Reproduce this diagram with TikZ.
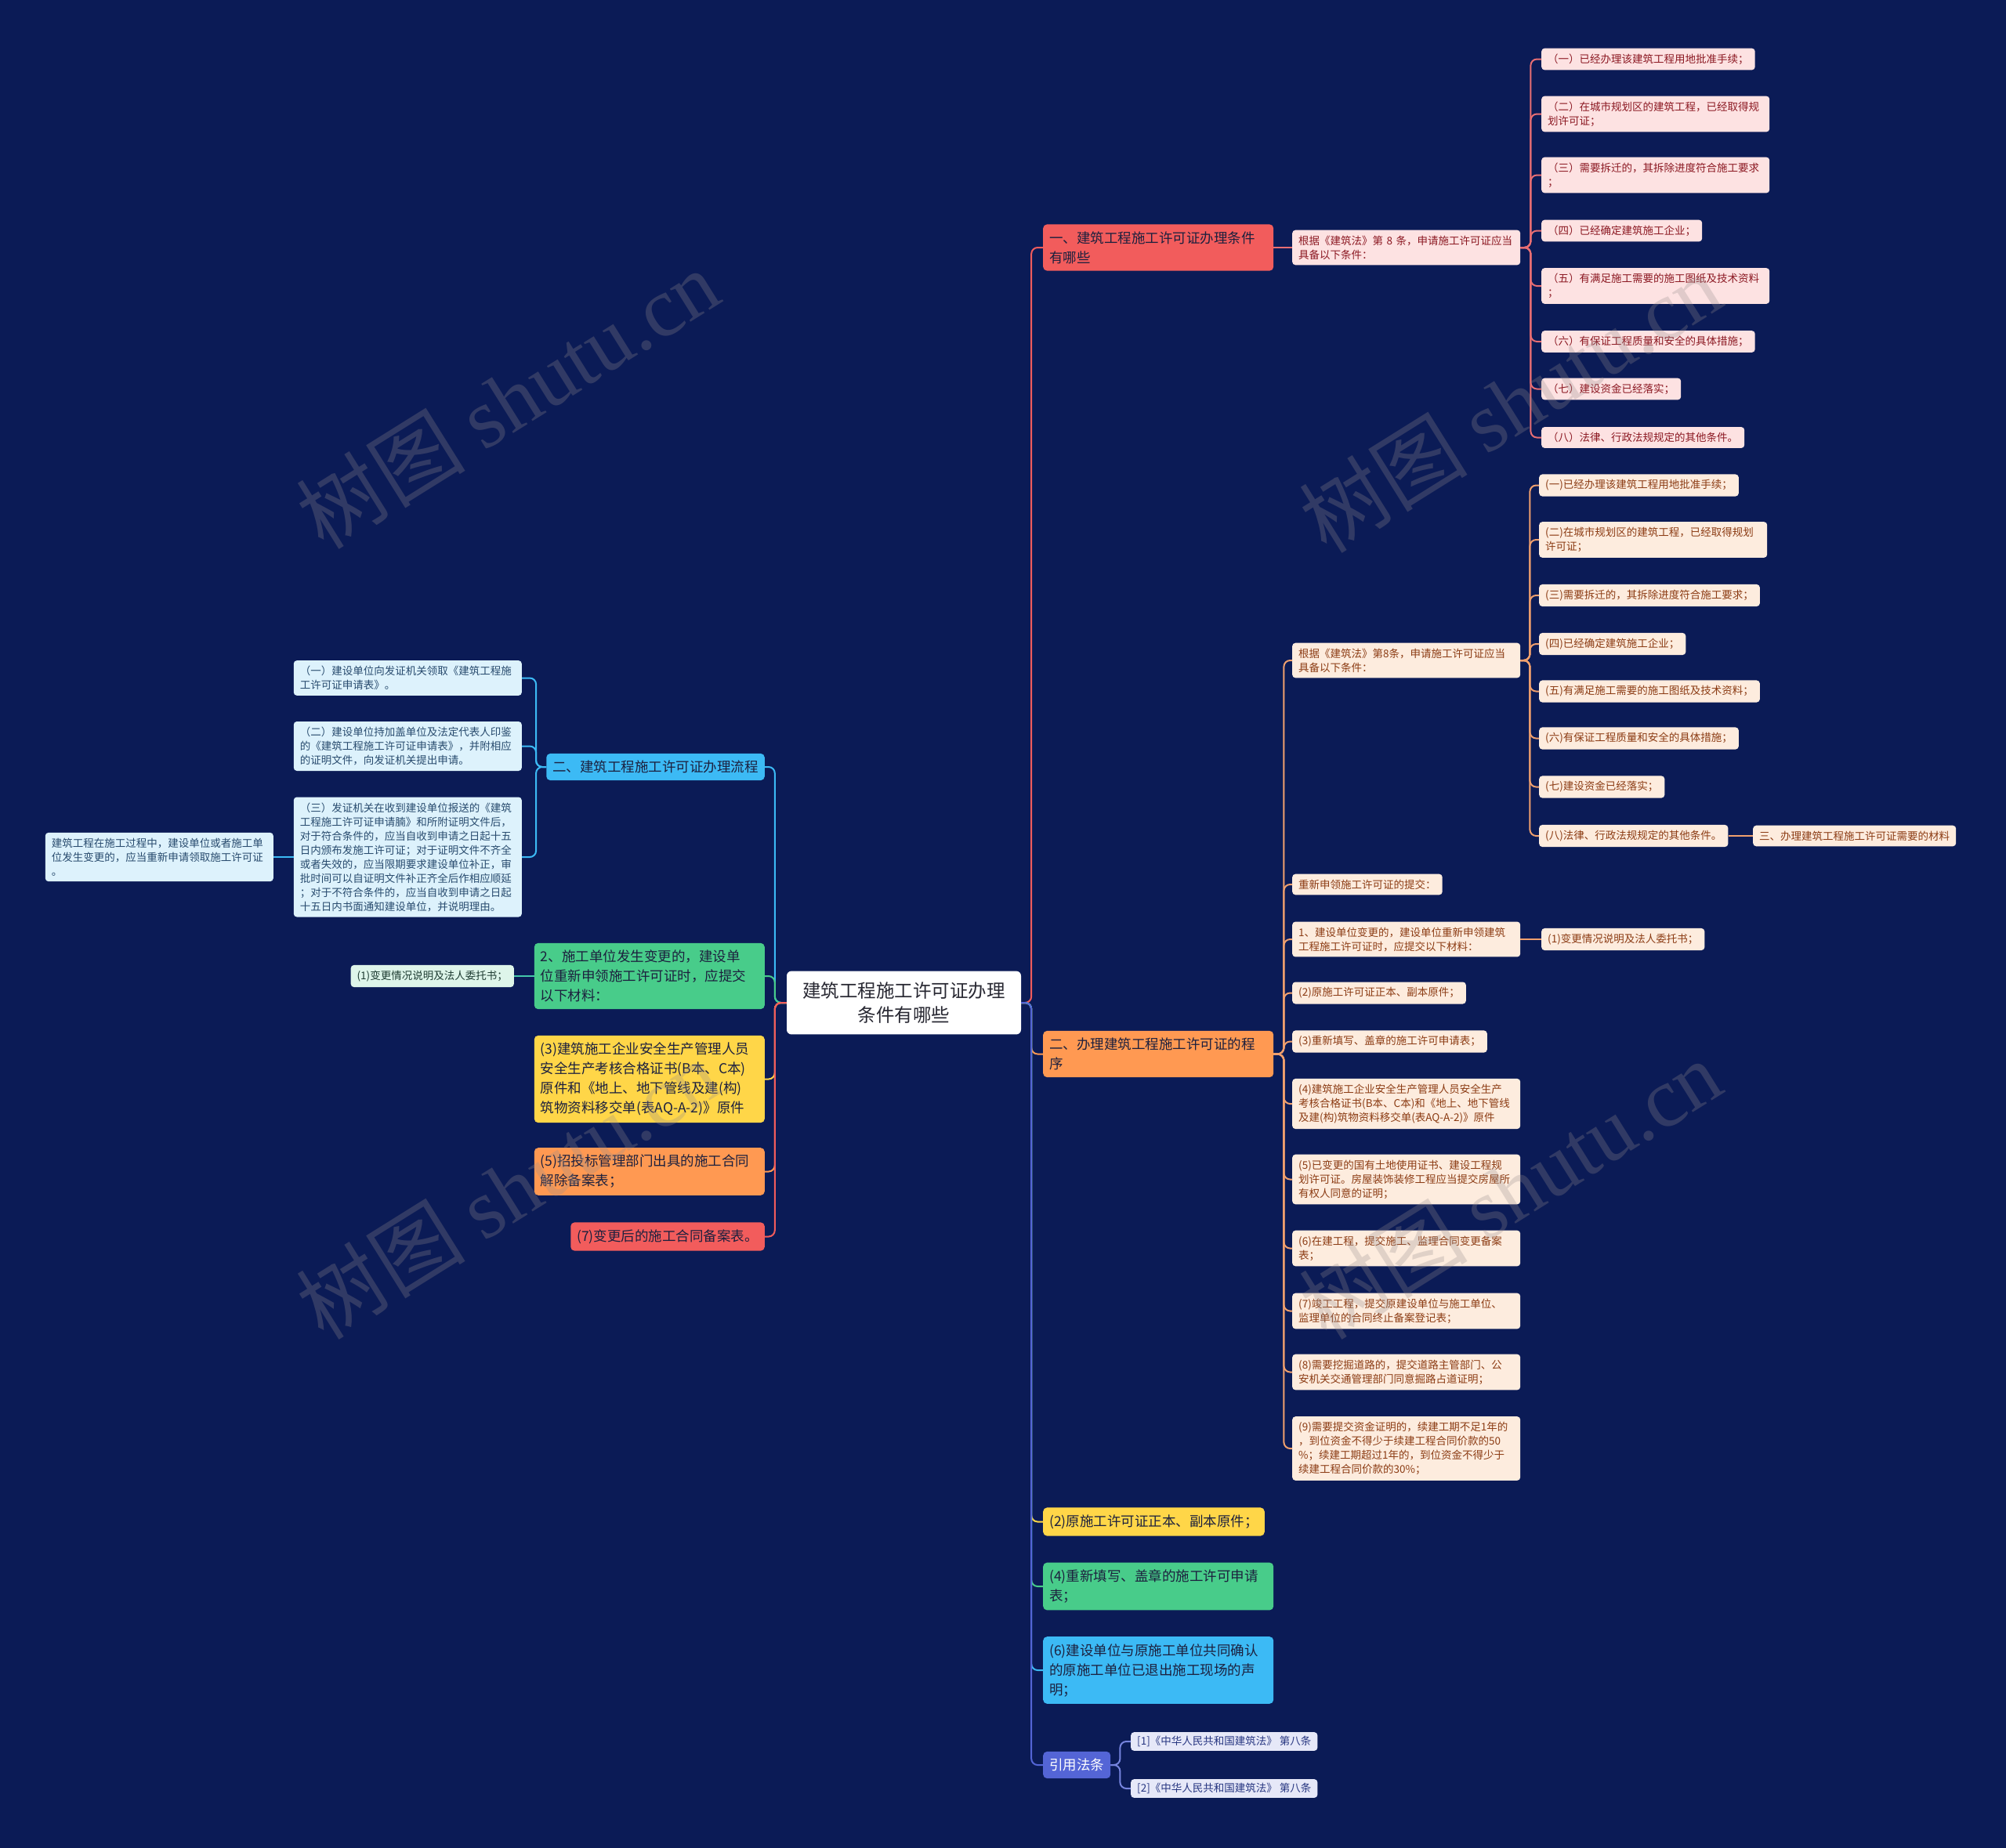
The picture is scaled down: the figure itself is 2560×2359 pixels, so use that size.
\documentclass[tikz,border=0pt]{standalone}
\usepackage{fontspec}
\setmainfont{Noto Sans CJK SC}
\newfontfamily\wmfont{Liberation Serif}
\usetikzlibrary{positioning}

\definecolor{bg}{RGB}{11,27,86}
\definecolor{rootT}{RGB}{40,40,50}
\definecolor{brT}{RGB}{28,32,62}
\definecolor{redB}{RGB}{242,92,92}
\definecolor{orangeB}{RGB}{255,153,82}
\definecolor{yellowB}{RGB}{255,214,72}
\definecolor{greenB}{RGB}{72,204,138}
\definecolor{blueB}{RGB}{60,186,245}
\definecolor{purpB}{RGB}{84,101,214}
\definecolor{pinkF}{RGB}{253,226,226}
\definecolor{pinkT}{RGB}{140,25,35}
\definecolor{pinkL}{RGB}{232,110,115}
\definecolor{peachF}{RGB}{253,236,222}
\definecolor{peachT}{RGB}{140,60,20}
\definecolor{peachL}{RGB}{240,160,110}
\definecolor{skyF}{RGB}{221,242,252}
\definecolor{skyT}{RGB}{40,75,110}
\definecolor{mintF}{RGB}{222,245,234}
\definecolor{mintT}{RGB}{30,60,50}
\definecolor{lavF}{RGB}{230,232,248}
\definecolor{lavT}{RGB}{40,55,130}
\definecolor{wmark}{RGB}{150,140,140}

\begin{document}
\begin{tikzpicture}[x=1pt, y=-1pt,
    leaf/.style={rounded corners=4pt, inner xsep=8pt, inner ysep=7pt, align=left,
                 font=\fontsize{13.5}{18}\selectfont},
    wide/.style={text width=275pt},
    pinkleaf/.style={leaf, fill=pinkF, text=pinkT},
    peachleaf/.style={leaf, fill=peachF, text=peachT},
    skyleaf/.style={leaf, fill=skyF, text=skyT},
    mintleaf/.style={leaf, fill=mintF, text=mintT},
    refleaf/.style={leaf, fill=lavF, text=lavT, inner ysep=5pt},
    branch/.style={rounded corners=5pt, fill=#1, text=brT, inner xsep=8pt, inner ysep=9pt,
                   align=left, font=\fontsize{17.5}{25}\selectfont},
    bwide/.style={text width=278pt},
    link/.style={draw=#1, line width=2pt, rounded corners=8pt}]

    \fill[bg] (0,0) rectangle (2560,2359);
    \useasboundingbox (0,0) rectangle (2560,2359);

    % centre
    \node[rounded corners=6pt, fill=white, text=rootT, text width=275pt, align=center,
          inner xsep=12pt, inner ysep=14pt, font=\fontsize{23.5}{31}\selectfont]
          (root) at (1153.5,1280) {建筑工程施工许可证办理\\条件有哪些};

    % right side
    \node[branch=redB, bwide, anchor=west] (bA) at (1331,316) {一、建筑工程施工许可证办理条件\\有哪些};
    \node[pinkleaf, wide, anchor=west] (bAa) at (1649,316) {根据《建筑法》第 8 条，申请施工许可证应当\\具备以下条件：};
    \node[pinkleaf, anchor=west] (a1) at (1967,75.5) {（一）已经办理该建筑工程用地批准手续；};
    \node[pinkleaf, wide, anchor=west] (a2) at (1967,145.5) {（二）在城市规划区的建筑工程，已经取得规\\划许可证；};
    \node[pinkleaf, wide, anchor=west] (a3) at (1967,223.5) {（三）需要拆迁的，其拆除进度符合施工要求\\；};
    \node[pinkleaf, anchor=west] (a4) at (1967,294.5) {（四）已经确定建筑施工企业；};
    \node[pinkleaf, wide, anchor=west] (a5) at (1967,365) {（五）有满足施工需要的施工图纸及技术资料\\；};
    \node[pinkleaf, anchor=west] (a6) at (1967,436) {（六）有保证工程质量和安全的具体措施；};
    \node[pinkleaf, anchor=west] (a7) at (1967,496.5) {（七）建设资金已经落实；};
    \node[pinkleaf, anchor=west] (a8) at (1967,558.5) {（八）法律、行政法规规定的其他条件。};

    \node[branch=orangeB, bwide, anchor=west] (bB) at (1331,1345.5) {二、办理建筑工程施工许可证的程\\序};
    \node[peachleaf, wide, anchor=west] (c1) at (1649,843) {根据《建筑法》第8条，申请施工许可证应当\\具备以下条件：};
    \node[peachleaf, anchor=west] (d1) at (1964,619.5) {(一)已经办理该建筑工程用地批准手续；};
    \node[peachleaf, wide, anchor=west] (d2) at (1964,689) {(二)在城市规划区的建筑工程，已经取得规划\\许可证；};
    \node[peachleaf, anchor=west] (d3) at (1964,760) {(三)需要拆迁的，其拆除进度符合施工要求；};
    \node[peachleaf, anchor=west] (d4) at (1964,822) {(四)已经确定建筑施工企业；};
    \node[peachleaf, anchor=west] (d5) at (1964,882.5) {(五)有满足施工需要的施工图纸及技术资料；};
    \node[peachleaf, anchor=west] (d6) at (1964,942.5) {(六)有保证工程质量和安全的具体措施；};
    \node[peachleaf, anchor=west] (d7) at (1964,1004.5) {(七)建设资金已经落实；};
    \node[peachleaf, anchor=west] (d8) at (1964,1067) {(八)法律、行政法规规定的其他条件。};
    \node[peachleaf, anchor=west] (d8a) at (2237,1067) {三、办理建筑工程施工许可证需要的材料};
    \node[peachleaf, anchor=west] (c2) at (1649,1129) {重新申领施工许可证的提交：};
    \node[peachleaf, wide, anchor=west] (c3) at (1649,1199) {1、建设单位变更的，建设单位重新申领建筑\\工程施工许可证时，应提交以下材料：};
    \node[peachleaf, anchor=west] (c3a) at (1967,1199) {(1)变更情况说明及法人委托书；};
    \node[peachleaf, anchor=west] (c4) at (1649,1267.5) {(2)原施工许可证正本、副本原件；};
    \node[peachleaf, anchor=west] (c5) at (1649,1329.5) {(3)重新填写、盖章的施工许可申请表；};
    \node[peachleaf, wide, anchor=west] (c6) at (1649,1409) {(4)建筑施工企业安全生产管理人员安全生产\\考核合格证书(B本、C本)和《地上、地下管线\\及建(构)筑物资料移交单(表AQ-A-2)》原件};
    \node[peachleaf, wide, anchor=west] (c7) at (1649,1505.5) {(5)已变更的国有土地使用证书、建设工程规\\划许可证。房屋装饰装修工程应当提交房屋所\\有权人同意的证明；};
    \node[peachleaf, wide, anchor=west] (c8) at (1649,1593.5) {(6)在建工程，提交施工、监理合同变更备案\\表；};
    \node[peachleaf, wide, anchor=west] (c9) at (1649,1673.5) {(7)竣工工程，提交原建设单位与施工单位、\\监理单位的合同终止备案登记表；};
    \node[peachleaf, wide, anchor=west] (c10) at (1649,1751.5) {(8)需要挖掘道路的，提交道路主管部门、公\\安机关交通管理部门同意掘路占道证明；};
    \node[peachleaf, wide, anchor=west] (c11) at (1649,1849) {(9)需要提交资金证明的，续建工期不足1年的\\，到位资金不得少于续建工程合同价款的50\\\%；续建工期超过1年的，到位资金不得少于\\续建工程合同价款的30\%；};

    \node[branch=yellowB, anchor=west] (bC) at (1331,1942.5) {(2)原施工许可证正本、副本原件；};
    \node[branch=greenB, bwide, anchor=west] (bD) at (1331,2025) {(4)重新填写、盖章的施工许可申请\\表；};
    \node[branch=blueB, bwide, anchor=west] (bE) at (1331,2132) {(6)建设单位与原施工单位共同确认\\的原施工单位已退出施工现场的声\\明；};
    \node[branch=purpB, text=white, anchor=west] (bF) at (1331,2253) {引用法条};
    \node[refleaf, anchor=west] (f1) at (1443,2223) {[1]《中华人民共和国建筑法》 第八条};
    \node[refleaf, anchor=west] (f2) at (1443,2283) {[2]《中华人民共和国建筑法》 第八条};

    % left side
    \node[branch=blueB, anchor=east] (lA) at (976,979) {二、建筑工程施工许可证办理流程};
    \node[skyleaf, wide, anchor=east] (p1) at (666,865.5) {（一）建设单位向发证机关领取《建筑工程施\\工许可证申请表》。};
    \node[skyleaf, wide, anchor=east] (p2) at (666,952.5) {（二）建设单位持加盖单位及法定代表人印鉴\\的《建筑工程施工许可证申请表》，并附相应\\的证明文件，向发证机关提出申请。};
    \node[skyleaf, wide, anchor=east] (p3) at (666,1094) {（三）发证机关在收到建设单位报送的《建筑\\工程施工许可证申请腩》和所附证明文件后，\\对于符合条件的，应当自收到申请之日起十五\\日内颁布发施工许可证；对于证明文件不齐全\\或者失效的，应当限期要求建设单位补正，审\\批时间可以自证明文件补正齐全后作相应顺延\\；对于不符合条件的，应当自收到申请之日起\\十五日内书面通知建设单位，并说明理由。};
    \node[skyleaf, wide, anchor=east] (p3a) at (349,1094) {建筑工程在施工过程中，建设单位或者施工单\\位发生变更的，应当重新申请领取施工许可证\\。};
    \node[branch=greenB, bwide, anchor=east] (lB) at (976,1246) {2、施工单位发生变更的，建设单\\位重新申领施工许可证时，应提交\\以下材料：};
    \node[mintleaf, anchor=east] (lBa) at (656,1246) {(1)变更情况说明及法人委托书；};
    \node[branch=yellowB, bwide, anchor=east] (lC) at (976,1377.5) {(3)建筑施工企业安全生产管理人员\\安全生产考核合格证书(B本、C本)\\原件和《地上、地下管线及建(构)\\筑物资料移交单(表AQ-A-2)》原件};
    \node[branch=orangeB, bwide, anchor=east] (lD) at (976,1495.5) {(5)招投标管理部门出具的施工合同\\解除备案表；};
    \node[branch=redB, anchor=east] (lE) at (976,1578.5) {(7)变更后的施工合同备案表。};

    % connectors
    \foreach \n/\c in {bA/redB, bB/orangeB, bC/yellowB, bD/greenB, bE/blueB, bF/purpB}
        \draw[link=\c] (root.east) -- ++(13,0) |- (\n.west);
    \foreach \n/\c in {lA/blueB, lB/greenB, lC/yellowB, lD/orangeB, lE/redB}
        \draw[link=\c] (root.west) -- ++(-15,0) |- (\n.east);

    \draw[link=pinkL] (bA.east) -- (bAa.west);
    \foreach \n in {a1,a2,a3,a4,a5,a6,a7,a8}
        \draw[link=pinkL] (bAa.east) -- ++(13,0) |- (\n.west);

    \foreach \n in {c1,c2,c3,c4,c5,c6,c7,c8,c9,c10,c11}
        \draw[link=peachL] (bB.east) -- ++(13,0) |- (\n.west);
    \foreach \n in {d1,d2,d3,d4,d5,d6,d7,d8}
        \draw[link=peachL] (c1.east) -- ++(12,0) |- (\n.west);
    \draw[link=peachL] (d8.east) -- (d8a.west);
    \draw[link=peachL] (c3.east) -- (c3a.west);

    \foreach \n in {f1,f2}
        \draw[link=purpB!80!white] (bF.east) -- ++(12,0) |- (\n.west);

    \foreach \n in {p1,p2,p3}
        \draw[link=blueB] (lA.west) -- ++(-13,0) |- (\n.east);
    \draw[link=blueB] (p3.west) -- (p3a.east);
    \draw[link=greenB!70!blueB] (lB.west) -- (lBa.east);

    % watermark
    \foreach \p [count=\i] in {(648,509),(1927,514),(648,1518),(1927,1518)}
        \node[rotate=32, text=wmark, opacity=0.28, font=\fontsize{108}{108}\selectfont] (wm\i) at \p {树图 {\wmfont shutu.cn}};
\end{tikzpicture}
\end{document}
